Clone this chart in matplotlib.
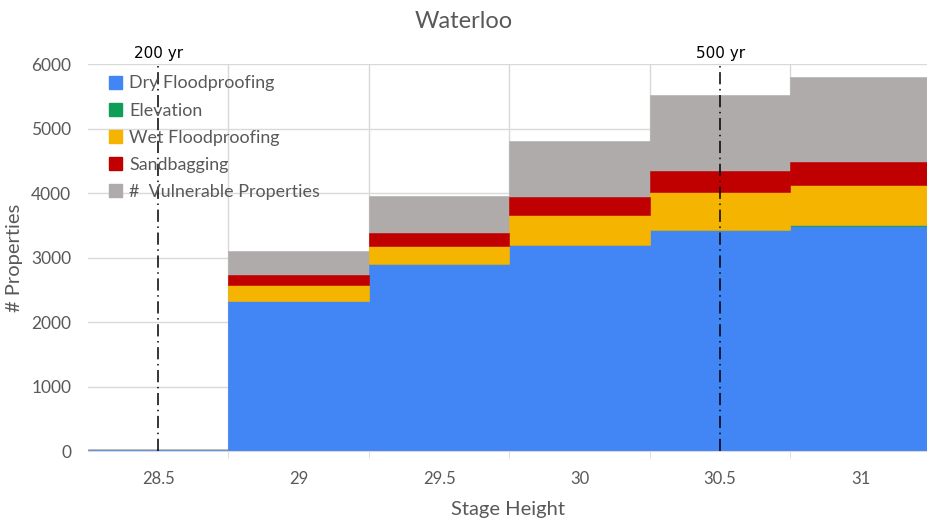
import matplotlib
matplotlib.use("Agg")
import matplotlib.pyplot as plt
from matplotlib.patches import Patch

plt.rcParams['font.family'] = ['Lato', 'DejaVu Sans']

# Stage heights and property counts per mitigation measure
stages = [28.5, 29, 29.5, 30, 30.5, 31]
stage_labels = ["28.5", "29", "29.5", "30", "30.5", "31"]
dry_floodproofing = [25, 2330, 2895, 3190, 3430, 3485]
elevation = [0, 0, 5, 10, 5, 20]
wet_floodproofing = [0, 244, 288, 464, 585, 628]
sandbagging = [0, 159, 201, 274, 330, 348]
vulnerable_total = [30, 3110, 3963, 4800, 5524, 5800]

return_periods = [28.5, 30.5]
return_labels = ["200 yr", "500 yr"]

colors = {
    "dry": "#4285F4",
    "elev": "#0F9D58",
    "wet": "#F4B400",
    "sand": "#C00000",
    "vuln": "#AFABAB",
}

fig = plt.figure(figsize=(9.28, 5.23), dpi=100)
ax = fig.add_axes([0.0948, 0.137, 0.9052, 0.7406])

w = 0.5


def edge_widths(vals):
    return [0.4 if v > 0 else 0 for v in vals]


# total vulnerable properties behind the stacked measures
ax.bar(stages, vulnerable_total, width=w, color=colors["vuln"],
       edgecolor=colors["vuln"], linewidth=edge_widths(vulnerable_total), zorder=2)

bottom = [0] * len(stages)
layers = [("dry", dry_floodproofing), ("elev", elevation),
          ("wet", wet_floodproofing), ("sand", sandbagging)]
for key, vals in layers:
    ax.bar(stages, vals, width=w, bottom=bottom, color=colors[key],
           edgecolor=colors[key], linewidth=edge_widths(vals), zorder=3)
    bottom = [b + v for b, v in zip(bottom, vals)]

ax.set_xlim(28.25, 31.24)
ax.set_ylim(0, 6000)
ax.set_yticks(range(0, 6001, 1000))
ax.set_xticks(stages)
ax.set_xticklabels(stage_labels)
boundaries = [s + 0.25 for s in stages[:-1]]
ax.set_xticks(boundaries, minor=True)

ax.grid(axis='y', which='major', color='#D9D9D9', linewidth=1, zorder=0)
ax.grid(axis='x', which='minor', color='#D9D9D9', linewidth=1, zorder=0)
ax.set_axisbelow(True)

for side in ["top", "right", "left"]:
    ax.spines[side].set_visible(False)
ax.spines["bottom"].set_color('#D9D9D9')
ax.spines["bottom"].set_zorder(5)

ax.tick_params(axis='x', which='major', length=0, pad=14,
               labelsize=12, labelcolor='#595959')
ax.tick_params(axis='x', which='minor', length=5, color='#D9D9D9')
ax.tick_params(axis='y', length=0, pad=12, labelsize=12.5, labelcolor='#595959')

ax.set_xlabel("Stage Height", fontsize=14.5, color='#595959', labelpad=10)
ax.set_ylabel("# Properties", fontsize=14.5, color='#595959', labelpad=6)
fig.text(0.5, 0.958, "Waterloo", ha='center', va='center',
         fontsize=17, color='#595959')

# return-period markers
for xr, lab in zip(return_periods, return_labels):
    ax.axvline(xr, ymin=0, ymax=1, color='black', linewidth=1.1,
               linestyle=(0, (8, 3, 1, 3)), zorder=6)
    ax.text(xr, 40 + 6000, lab, ha='center', va='bottom', fontsize=11,
            color='black', family=['Liberation Sans Narrow', 'DejaVu Sans'])

handles = [Patch(color=colors["dry"]), Patch(color=colors["elev"]),
           Patch(color=colors["wet"]), Patch(color=colors["sand"]),
           Patch(color=colors["vuln"])]
labels = ["Dry Floodproofing", "Elevation", "Wet Floodproofing",
          "Sandbagging", "#  Vulnerable Properties"]
leg = ax.legend(handles, labels, loc='upper left', bbox_to_anchor=(0.006, 1.012),
                frameon=False, fontsize=12.9, handlelength=0.72,
                handleheight=0.72, handletextpad=0.4, labelspacing=0.62)
for t in leg.get_texts():
    t.set_color('#595959')
leg.set_zorder(7)

fig.savefig("out.png", dpi=100)
